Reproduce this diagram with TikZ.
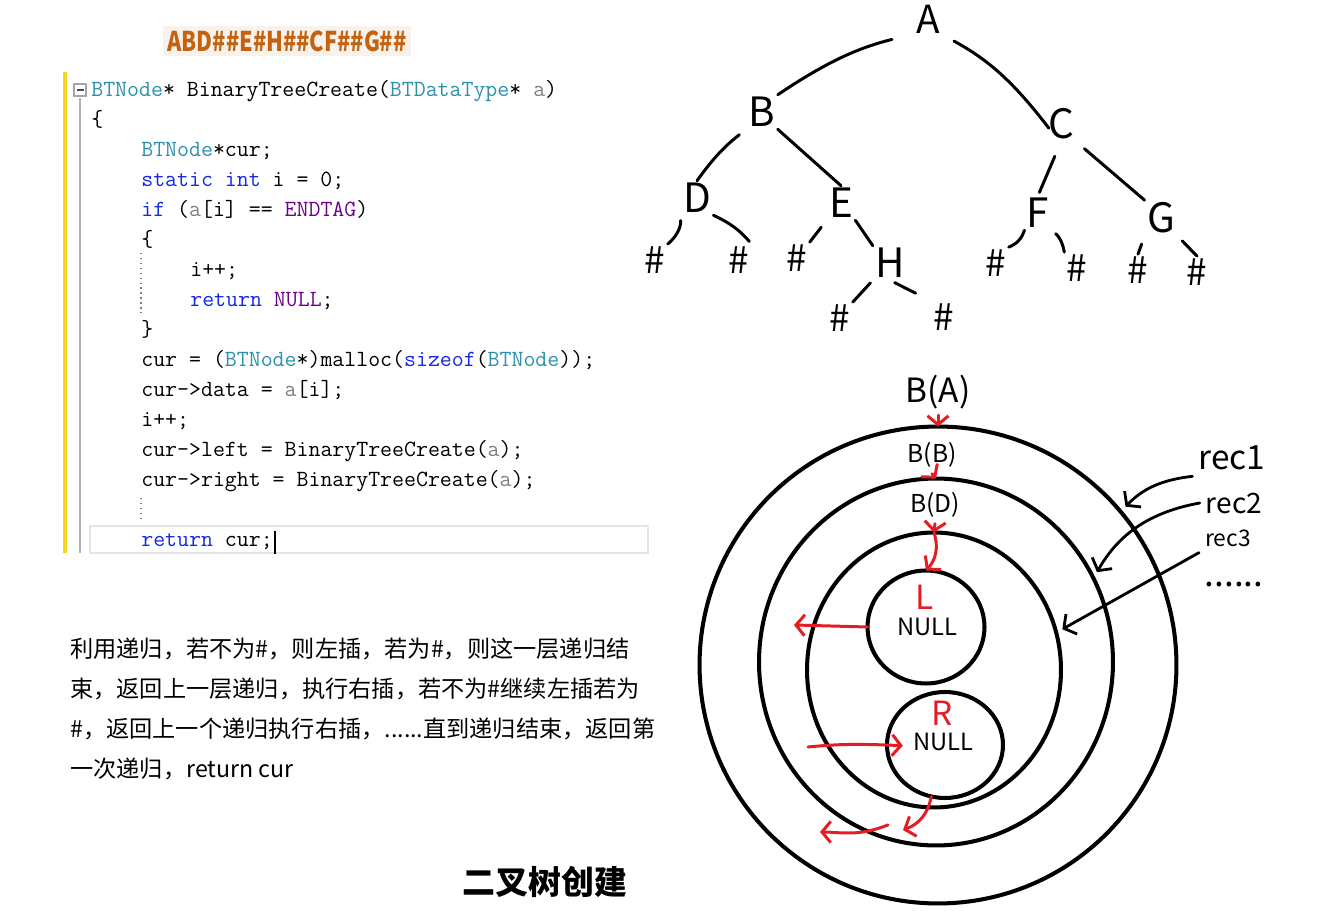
\documentclass[tikz,border=0pt]{standalone}
\usepackage{fontspec}
\newfontfamily\cjk{Noto Sans CJK SC}
\usetikzlibrary{arrows.meta,shapes.geometric,positioning}
\definecolor{codetype}{RGB}{43,145,175}
\definecolor{codekw}{RGB}{20,40,230}
\definecolor{codemacro}{RGB}{111,0,138}
\definecolor{codeparam}{RGB}{128,128,128}
\definecolor{seqtext}{RGB}{196,98,16}
\definecolor{seqback}{RGB}{247,243,236}
\definecolor{penred}{RGB}{228,28,36}
\definecolor{baryellow}{RGB}{245,215,30}
\newcommand{\ctype}[1]{\textcolor{codetype}{#1}}
\newcommand{\ckw}[1]{\textcolor{codekw}{#1}}
\newcommand{\cmac}[1]{\textcolor{codemacro}{#1}}
\newcommand{\cpar}[1]{\textcolor{codeparam}{#1}}

\begin{document}
\begin{tikzpicture}[x=0.02cm, y=-0.02cm,
    codeline/.style={anchor=base west, inner sep=0pt, font=\ttfamily\fontsize{13.2pt}{17pt}\selectfont},
    para/.style={anchor=base west, inner sep=0pt, font=\cjk\fontsize{13.2pt}{16pt}\selectfont},
    letter/.style={inner sep=1.2pt, font=\cjk\fontsize{23pt}{24pt}\selectfont},
    hash/.style={inner sep=1.2pt, font=\cjk\fontsize{21pt}{22pt}\selectfont},
    treeedge/.style={line width=1.7pt, line cap=round},
    ring/.style={draw, ellipse, line width=2.3pt, inner sep=0pt, outer sep=0pt},
    redpen/.style={draw=penred, line width=1.7pt, line cap=round, -{Straight Barb[length=5pt,width=12pt]}},
    blackpen/.style={draw=black, line width=1.6pt, line cap=round, -{Straight Barb[length=5pt,width=13pt]}}]
    \path[fill=white, use as bounding box] (0,0) rectangle (1340,911);

    % input sequence
    \node[fill=seqback, inner sep=0pt, minimum width=4.98cm, minimum height=0.6cm,
        text=seqtext, font=\cjk\bfseries\fontsize{15.5pt}{16pt}\selectfont] (seq) at (287,41)
        {\scalebox{0.8}[1]{ABD\#\#E\#H\#\#CF\#\#G\#\#}};

    % code window
    \fill[baryellow] (63,72) rectangle (67,553);
    \draw[gray!60, line width=0.8pt] (80,98) -- (80,553);
    \draw[gray!70, line width=0.8pt, fill=white] (74,84) rectangle (86,96);
    \draw[black!70, line width=1pt] (76.5,90) -- (83.5,90);
    \draw[gray!20, line width=1.5pt] (90,526) rectangle (648,553);
    \draw[gray, dotted, line width=0.8pt] (141,253) -- (141,313);
    \draw[gray, dotted, line width=0.8pt] (141,498) -- (141,522);
    \node[codeline] (code1) at (91,97) {\ctype{BTNode}* BinaryTreeCreate(\ctype{BTDataType}* \cpar{a})};
    \node[codeline] (code2) at (91,127) {\{};
    \node[codeline] (code3) at (141,157) {\ctype{BTNode}*cur;};
    \node[codeline] (code4) at (141,187) {\ckw{static} \ckw{int} i = 0;};
    \node[codeline] (code5) at (141,217) {\ckw{if} (\cpar{a}[i] == \cmac{ENDTAG})};
    \node[codeline] (code6) at (141,247) {\{};
    \node[codeline] (code7) at (190,277) {i++;};
    \node[codeline] (code8) at (190,307) {\ckw{return} \cmac{NULL};};
    \node[codeline] (code9) at (141,337) {\}};
    \node[codeline] (code10) at (141,367) {cur = (\ctype{BTNode}*)malloc(\ckw{sizeof}(\ctype{BTNode}));};
    \node[codeline] (code11) at (141,397) {cur->data = \cpar{a}[i];};
    \node[codeline] (code12) at (141,427) {i++;};
    \node[codeline] (code13) at (141,457) {cur->left = BinaryTreeCreate(\cpar{a});};
    \node[codeline] (code14) at (141,487) {cur->right = BinaryTreeCreate(\cpar{a});};
    \node[codeline] (code15) at (141,547) {\ckw{return} cur;};
    \draw[line width=0.8pt] ([xshift=1pt,yshift=-4pt]code15.base east) -- ++(0,-23);

    % explanation
    \node[para] (para1) at (70,658) {利用递归，若不为\#，则左插，若为\#，则这一层递归结};
    \node[para] (para2) at (70,698) {束，返回上一层递归，执行右插，若不为\#继续左插若为};
    \node[para] (para3) at (70,738) {\#，返回上一个递归执行右插，......直到递归结束，返回第};
    \node[para] (para4) at (70,778) {一次递归，return cur};
    \node[font=\cjk\bfseries\fontsize{18.7pt}{20pt}\selectfont] (title) at (545,882) {二叉树创建};

    % tree
    \node[letter, inner sep=0pt, font=\cjk\fontsize{22pt}{22pt}\selectfont] (A) at (928,19) {A};
    \node[letter] (B) at (762,112) {B};
    \node[letter] (C) at (1061,124) {C};
    \node[letter] (D) at (697,198) {D};
    \node[letter] (E) at (841,203) {E};
    \node[letter] (F) at (1038,213) {F};
    \node[letter] (G) at (1161,218) {G};
    \node[letter] (H) at (890,263) {H};
    \node[hash] (h1) at (655,260) {\#};
    \node[hash] (h2) at (739,260) {\#};
    \node[hash] (h3) at (797,258) {\#};
    \node[hash] (h4) at (840,318) {\#};
    \node[hash] (h5) at (944,317) {\#};
    \node[hash] (h6) at (996,263) {\#};
    \node[hash] (h7) at (1077,268) {\#};
    \node[hash] (h8) at (1138,270) {\#};
    \node[hash] (h9) at (1197,272) {\#};
    \draw[treeedge, shorten <=14pt] (A.south west) to[bend right=10] (B.north east);
    \draw[treeedge, shorten <=9pt, shorten >=-3pt] (A.south east) to[bend left=12] (C.west);
    \draw[treeedge, shorten <=5pt] (B.south west) to[bend right=8] (D.north);
    \draw[treeedge] (B.south east) -- (E.north);
    \draw[treeedge, shorten <=9pt, shorten >=2pt] (C.south) -- (F.north);
    \draw[treeedge, shorten <=6pt] (C.south east) -- (G.north west);
    \draw[treeedge, shorten <=3pt] (D.south west) to[bend left=25] (h1.north east);
    \draw[treeedge, shorten >=2pt] (D.south east) to[bend left=12] (h2.north east);
    \draw[treeedge, shorten <=5pt] (E.south west) -- (h3.north east);
    \draw[treeedge] (E.south east) -- (H.north west);
    \draw[treeedge, shorten <=2pt] (H.south west) -- (h4.north east);
    \draw[treeedge, shorten <=3pt, shorten >=10pt] (H.south) -- (h5.north west);
    \draw[treeedge] (F.south west) to[bend left=25] (h6.north east);
    \draw[treeedge, shorten <=3pt] (F.south east) to[bend left=20] (h7.north west);
    \draw[treeedge, shorten <=5pt] (G.south west) -- (h8.north);
    \draw[treeedge, shorten <=4pt] (G.south east) -- (h9.north);

    % recursion rings
    \node[ring, minimum width=9.54cm, minimum height=9.54cm] (ringA) at (938,665) {};
    \node[ring, minimum width=7.08cm, minimum height=7.34cm] (ringB) at (936,662) {};
    \node[ring, minimum width=5.08cm, minimum height=5.5cm] (ringD) at (934,670) {};
    \node[ring, minimum width=2.34cm, minimum height=2.26cm] (leafL) at (926,627) {};
    \node[ring, minimum width=2.32cm, minimum height=2.12cm] (leafR) at (945,745) {};
    \node[font=\cjk\fontsize{19pt}{20pt}\selectfont] (lblA) at (938,392) {B(A)};
    \node[font=\cjk\fontsize{14pt}{16pt}\selectfont] (lblB) at (932,455) {B(B)};
    \node[font=\cjk\fontsize{14pt}{16pt}\selectfont] (lblD) at (935,505) {B(D)};
    \node[font=\cjk\fontsize{19pt}{20pt}\selectfont, text=penred] (markL) at (925,597) {L};
    \node[font=\cjk\fontsize{13.5pt}{15pt}\selectfont] (nullL) at (927,627) {NULL};
    \node[font=\cjk\fontsize{19pt}{20pt}\selectfont, text=penred] (markR) at (942,713) {R};
    \node[font=\cjk\fontsize{13.5pt}{15pt}\selectfont] (nullR) at (943,742) {NULL};
    \node[font=\cjk\fontsize{19pt}{20pt}\selectfont] (rec1) at (1232,458) {rec1};
    \node[font=\cjk\fontsize{16pt}{18pt}\selectfont] (rec2) at (1234,503) {rec2};
    \node[font=\cjk\fontsize{13pt}{15pt}\selectfont] (rec3) at (1228,538) {rec3};
    \node[anchor=base, inner sep=0pt, font=\cjk\fontsize{20pt}{20pt}\selectfont] (dots) at (1234,587) {......};

    % red trace
    \coordinate (backL) at (794,625);
    \coordinate (intoR) at (808,747);
    \coordinate (outR) at (903,830);
    \coordinate (retR) at (888,825);
    \coordinate (backR) at (820,832);
    \draw[redpen] (lblA.south) -- (ringA.north);
    \draw[redpen] (lblB.south) -- (ringB.north);
    \draw[redpen] (lblD.south) -- (ringD.north);
    \draw[redpen] (ringD.north) to[bend left=30] (leafL.north);
    \draw[redpen] (leafL.west) -- (backL);
    \draw[redpen, shorten >=-9pt] (intoR) to[bend left=4] (leafR.west);
    \draw[redpen] (leafR.255) to[bend left=30] (outR);
    \draw[redpen] (retR) to[out=200, in=0] ++(-40,8) to[out=180, in=0] (backR);

    % level pointers
    \draw[blackpen, shorten >=4pt] (rec1.south west) to[bend right=20] (ringA.40);
    \draw[blackpen, shorten >=4pt] (rec2.west) to[bend right=25] (ringB.28);
    \draw[blackpen, shorten >=4pt] (rec3.south west) -- (ringD.17);
\end{tikzpicture}
\end{document}
